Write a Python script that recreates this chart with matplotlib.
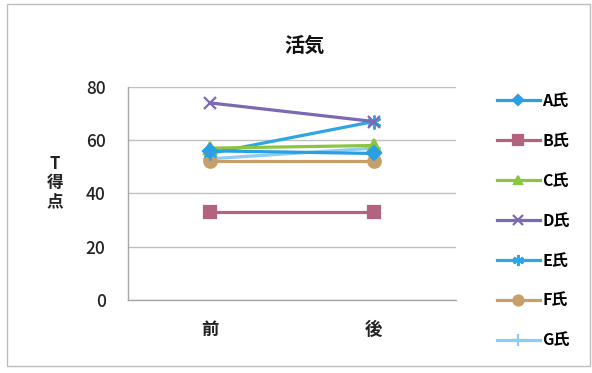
import numpy as np
import matplotlib
matplotlib.use("Agg")
import matplotlib.pyplot as plt

plt.rcParams["font.family"] = ["Noto Sans CJK JP", "DejaVu Sans"]

CATS = ["前", "後"]
NAMES = ["A氏", "B氏", "C氏", "D氏", "E氏", "F氏", "G氏"]
A = [56, 55]
B = [33, 33]
C = [57, 58]
D = [74, 67]
E = [55, 67]
F = [52, 52]
G = [53, 57]
SERIES = [A, B, C, D, E, F, G]

COLORS = ["#2b9fe3", "#b3637f", "#8cc541", "#7b69b4", "#2ea6e6", "#c89f68", "#8dcdf3"]
MARKERS = ["D", "s", "^", "x", (6, 2, 0), "o", "+"]
MSIZE = [7, 9, 8, 9, 10, 9, 10]
GRID = "#c0c0c0"

fig = plt.figure(figsize=(5.92, 3.73), dpi=100)
ax = fig.add_axes([0.216, 0.196, 0.554, 0.571])

xb = np.arange(len(CATS))
handles = [None] * len(SERIES)
for i in range(len(SERIES))[::-1]:
    h, = ax.plot(xb, SERIES[i], color=COLORS[i], lw=2.3, marker=MARKERS[i],
                 markersize=MSIZE[i], markeredgewidth=1.6, label=NAMES[i], zorder=3 + (7 - i))
    handles[i] = h

ax.set_xlim(-0.5, 1.5)
ax.set_ylim(0, 80)
ax.set_yticks([0, 20, 40, 60, 80])
ax.set_xticks(xb, CATS)
ax.yaxis.grid(True, color=GRID, lw=1.0)
ax.set_axisbelow(True)
for s in ("top", "right"):
    ax.spines[s].set_visible(False)
for s in ("left", "bottom"):
    ax.spines[s].set_color("#a8a8a8")
    ax.spines[s].set_linewidth(1.0)
ax.tick_params(axis="y", length=0, labelsize=12.5, pad=16, colors="#222222")
ax.tick_params(axis="x", length=0, labelsize=12.5, pad=15, colors="#222222")
for lab in ax.get_xticklabels():
    lab.set_fontweight("bold")
for lab in ax.get_yticklabels():
    lab.set_fontweight("medium")

fig.text(0.093, 0.51, "T\n得\n点", ha="center", va="center", fontsize=12,
         fontweight="bold", linespacing=1.05, color="#222222")
fig.text(0.515, 0.88, "活気", ha="center", va="center", fontsize=14.5,
         fontweight="bold", color="#111111")

fig.legend(handles=handles, labels=NAMES, loc="upper left",
           bbox_to_anchor=(0.815, 0.79), frameon=False,
           labelspacing=1.5, handlelength=2.7, handletextpad=0.15, markerscale=0.8,
           prop={"weight": "bold", "size": 11.5})

# outer chart frame
fig.patches.append(plt.Rectangle((0.012, 0.02), 0.985, 0.97, transform=fig.transFigure,
                                 fill=False, edgecolor="#bdbdbd", lw=1.0))

fig.savefig("out.png", dpi=100)
